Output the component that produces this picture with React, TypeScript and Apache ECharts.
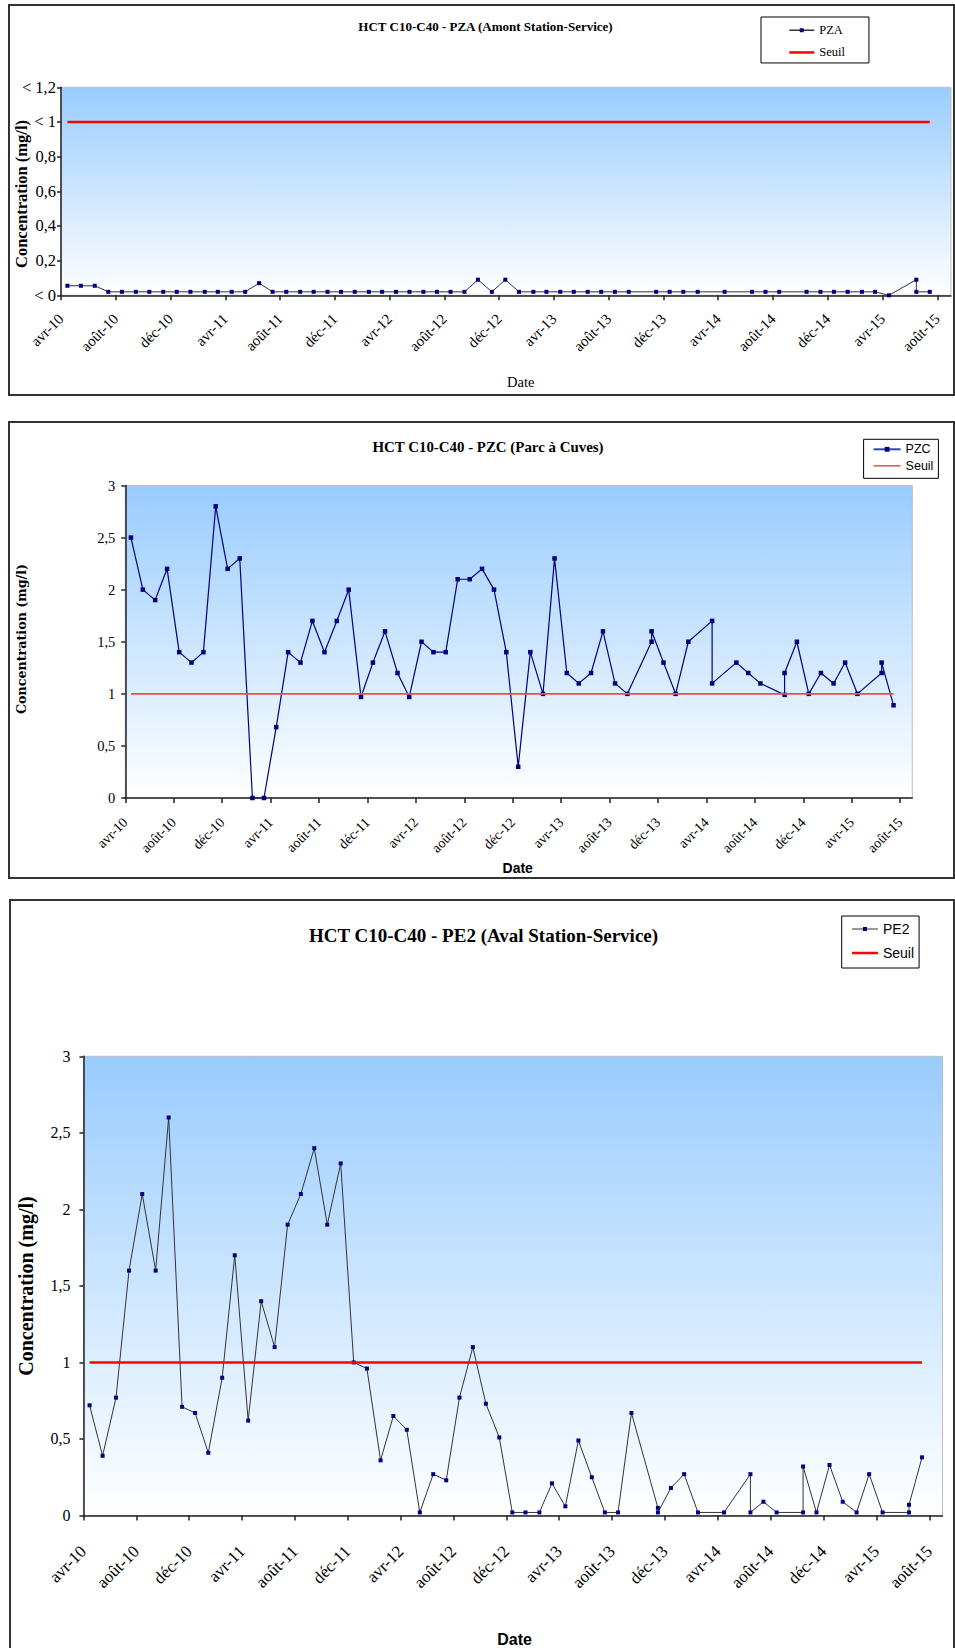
import { useEffect, useRef } from "react";
import * as echarts from "echarts";

// Sampling campaigns (one per month, some months skipped)
const campaignDates = [
  "2010-04-15", "2010-05-15", "2010-06-15", "2010-07-15", "2010-08-15", "2010-09-15", "2010-10-15", "2010-11-15", "2010-12-15",
  "2011-01-15", "2011-02-15", "2011-03-15", "2011-04-15", "2011-05-15", "2011-06-15", "2011-07-15", "2011-08-15", "2011-09-15",
  "2011-10-15", "2011-11-15", "2011-12-15",
  "2012-01-15", "2012-02-15", "2012-03-15", "2012-04-15", "2012-05-15", "2012-06-15", "2012-07-15", "2012-08-15", "2012-09-15",
  "2012-10-15", "2012-11-15", "2012-12-15",
  "2013-01-15", "2013-02-15", "2013-03-15", "2013-04-15", "2013-05-15", "2013-06-15", "2013-07-15", "2013-08-15", "2013-09-15",
  "2013-11-15", "2013-12-15", "2014-01-15", "2014-02-15", "2014-04-15", "2014-06-15", "2014-07-15", "2014-08-15",
  "2014-10-15", "2014-11-15", "2014-12-15", "2015-01-15", "2015-02-15", "2015-03-15", "2015-04-15", "2015-06-15", "2015-07-15",
];

// Values per campaign (a pair = two samples the same day)
const pzaValues: (number | number[])[] = [
  0.055, 0.055, 0.055, 0.02, 0.02, 0.02, 0.02, 0.02, 0.02,
  0.02, 0.02, 0.02, 0.02, 0.02, 0.07, 0.02, 0.02, 0.02,
  0.02, 0.02, 0.02,
  0.02, 0.02, 0.02, 0.02, 0.02, 0.02, 0.02, 0.02, 0.02,
  0.09, 0.02, 0.09,
  0.02, 0.02, 0.02, 0.02, 0.02, 0.02, 0.02, 0.02, 0.02,
  0.02, 0.02, 0.02, 0.02, 0.02, 0.02, 0.02, 0.02,
  0.02, 0.02, 0.02, 0.02, 0.02, 0.02, 0, [0.09, 0.02], 0.02,
];

const pzcValues: (number | number[])[] = [
  2.5, 2.0, 1.9, 2.2, 1.4, 1.3, 1.4, 2.8, 2.2,
  2.3, 0, 0, 0.68, 1.4, 1.3, 1.7, 1.4, 1.7,
  2.0, 0.97, 1.3,
  1.6, 1.2, 0.97, 1.5, 1.4, 1.4, 2.1, 2.1, 2.2,
  2.0, 1.4, 0.3,
  1.4, 1.0, 2.3, 1.2, 1.1, 1.2, 1.6, 1.1, 1.0,
  [1.5, 1.6], 1.3, 1.0, 1.5, [1.7, 1.1], 1.3, 1.2, 1.1,
  [0.99, 1.2], 1.5, 1.0, 1.2, 1.1, 1.3, 1.0, [1.2, 1.3], 0.89,
];

const pe2Values: (number | number[])[] = [
  0.72, 0.39, 0.77, 1.6, 2.1, 1.6, 2.6, 0.71, 0.67,
  0.41, 0.9, 1.7, 0.62, 1.4, 1.1, 1.9, 2.1, 2.4,
  1.9, 2.3, 1.0,
  0.96, 0.36, 0.65, 0.56, 0.02, 0.27, 0.23, 0.77, 1.1,
  0.73, 0.51, 0.02,
  0.02, 0.02, 0.21, 0.06, 0.49, 0.25, 0.02, 0.02, 0.67,
  [0.05, 0.02], 0.18, 0.27, 0.02, 0.02, [0.27, 0.02], 0.09, 0.02,
  [0.02, 0.32], 0.02, 0.33, 0.09, 0.02, 0.27, 0.02, [0.02, 0.07], 0.38,
];

const SEUIL = 1;

const xTickLabels = [
  "avr-10", "août-10", "déc-10", "avr-11", "août-11", "déc-11", "avr-12", "août-12", "déc-12",
  "avr-13", "août-13", "déc-13", "avr-14", "août-14", "déc-14", "avr-15", "août-15",
];
const yTickLabelsPZA = ["< 0", "0,2", "0,4", "0,6", "0,8", "< 1", "< 1,2"];
const yTickLabels3 = ["0", "0,5", "1", "1,5", "2", "2,5", "3"];

const X_MONTHS = 65; // avr-10 (1st) .. sept-15 (1st)
const X_STEP = 4;

const SERIF = "'Liberation Serif', 'Times New Roman', serif";
const SANS = "'Liberation Sans', Arial, sans-serif";
const WIDE_SERIF = "'DejaVu Serif', serif";

function monthOffset(d: string): number {
  const [y, m, day] = d.split("-").map(Number);
  const dim = new Date(y, m, 0).getDate();
  return (y - 2010) * 12 + (m - 4) + (day - 1) / dim;
}

function buildData(values: (number | number[])[]) {
  const out: number[][] = [];
  values.forEach((v, i) => {
    const x = monthOffset(campaignDates[i]);
    (Array.isArray(v) ? v : [v]).forEach((val) => out.push([x, val]));
  });
  return out;
}

function buildSeuil() {
  return campaignDates.map((d) => [monthOffset(d), SEUIL]);
}

const xTickValues = xTickLabels.map((_, i) => i * X_STEP);

function xAxisCfg(gridIndex: number, fontSize: number, margin: number) {
  return {
    type: "value",
    gridIndex,
    min: 0,
    max: X_MONTHS,
    interval: X_STEP,
    axisLine: { show: true, onZero: false, lineStyle: { color: "#222", width: 1.5 } },
    axisTick: { show: true, inside: false, length: 5, customValues: xTickValues, lineStyle: { color: "#222", width: 1.5 } },
    axisLabel: {
      show: true,
      rotate: 45,
      margin,
      customValues: xTickValues,
      color: "#000",
      fontFamily: SERIF,
      fontSize,
      formatter: (v: number) => xTickLabels[Math.round(v / X_STEP)] ?? "",
    },
    splitLine: { show: false },
  };
}

function yAxisCfg(gridIndex: number, max: number, interval: number, labels: string[], fontSize: number, margin: number) {
  return {
    type: "value",
    gridIndex,
    min: 0,
    max,
    interval,
    axisLine: { show: true, lineStyle: { color: "#222", width: 1.5 } },
    axisTick: { show: true, inside: false, length: 4, lineStyle: { color: "#222", width: 1.5 } },
    axisLabel: {
      show: true,
      margin,
      color: "#000",
      fontFamily: SERIF,
      fontSize,
      formatter: (v: number) => labels[Math.round(v / interval)] ?? "",
    },
    splitLine: { show: false },
  };
}

const plotBg = {
  type: "linear",
  x: 0,
  y: 0,
  x2: 0,
  y2: 1,
  colorStops: [
    { offset: 0, color: "#99CCFF" },
    { offset: 1, color: "#FFFFFF" },
  ],
};

function gridCfg(left: number, top: number, width: number, height: number) {
  return {
    left,
    top,
    width,
    height,
    show: true,
    backgroundColor: plotBg,
    borderColor: "#BFBFBF",
    borderWidth: 1,
    containLabel: false,
    outerBoundsMode: "none",
  };
}

function txt(x: number, y: number, text: string, font: any, rotation = 0) {
  return {
    type: "text",
    x,
    y,
    rotation,
    z: 10,
    style: {
      text,
      fill: "#000",
      align: "center",
      verticalAlign: "middle",
      ...font,
    },
  };
}

function frame(x: number, y: number, w: number, h: number) {
  return {
    type: "rect",
    z: 0,
    shape: { x, y, width: w, height: h },
    style: { fill: "none", stroke: "#333", lineWidth: 2 },
  };
}

const hiddenSymbol = { color: "rgba(0,0,0,0)", borderWidth: 0, opacity: 0 };

export default function App() {
  const ref = useRef<HTMLDivElement>(null);

  useEffect(() => {
    if (!ref.current) return;
    const chart = echarts.init(ref.current, null, { renderer: "svg" });

    const option: any = {
      animation: false,
      backgroundColor: "#fff",
      grid: [
        gridCfg(61, 87.3, 890, 208),
        gridCfg(125.3, 485.5, 787, 312.5),
        gridCfg(83.4, 1056.3, 859.1, 459.2),
      ],
      xAxis: [xAxisCfg(0, 15, 21), xAxisCfg(1, 14, 22), xAxisCfg(2, 17, 33)],
      yAxis: [
        yAxisCfg(0, 1.2, 0.2, yTickLabelsPZA, 16.5, 5),
        yAxisCfg(1, 3, 0.5, yTickLabels3, 14.5, 10),
        yAxisCfg(2, 3, 0.5, yTickLabels3, 16, 13),
      ],
      legend: [
        {
          orient: "vertical",
          left: 761,
          top: 17,
          padding: [6.75, 24, 4, 27],
          itemGap: 9.2,
          itemWidth: 25,
          itemHeight: 5,
          borderColor: "#000",
          borderWidth: 1,
          selectedMode: false,
          textStyle: { fontFamily: SERIF, fontSize: 12.5, color: "#000" },
          data: [
            { name: "PZA", itemStyle: { color: "#000080" }, lineStyle: { color: "#333", width: 1.5 } },
            { name: "Seuil", itemStyle: hiddenSymbol, lineStyle: { color: "#FF0000", width: 2.5 } },
          ],
        },
        {
          orient: "vertical",
          left: 863.6,
          top: 439.3,
          padding: [3.5, 5, 6, 9],
          itemGap: 3.5,
          itemWidth: 27,
          itemHeight: 6,
          borderColor: "#000",
          borderWidth: 1,
          selectedMode: false,
          textStyle: { fontFamily: SANS, fontSize: 12.5, color: "#000" },
          data: [
            { name: "PZC", itemStyle: { color: "#000080" }, lineStyle: { color: "#3344AA", width: 2 } },
            { name: "Seuil", itemStyle: hiddenSymbol, lineStyle: { color: "#E85050", width: 1.5 } },
          ],
        },
        {
          orient: "vertical",
          left: 841.7,
          top: 916,
          padding: [6, 5, 8, 9],
          itemGap: 10,
          itemWidth: 26,
          itemHeight: 5,
          borderColor: "#000",
          borderWidth: 1,
          selectedMode: false,
          textStyle: { fontFamily: SANS, fontSize: 14, color: "#000" },
          data: [
            { name: "PE2", itemStyle: { color: "#000080" }, lineStyle: { color: "#333", width: 1 } },
            { name: "Seuil", itemStyle: hiddenSymbol, lineStyle: { color: "#FF0000", width: 2.5 } },
          ],
        },
      ],
      graphic: [
        frame(9, 5, 945, 390),
        frame(9, 422, 945, 456),
        frame(10, 900, 944, 800),
        txt(485.5, 26.5, "HCT C10-C40 - PZA (Amont Station-Service)", { fontFamily: SERIF, fontWeight: "bold", fontSize: 13 }),
        txt(488, 446.7, "HCT C10-C40 - PZC (Parc à Cuves)", { fontFamily: SERIF, fontWeight: "bold", fontSize: 14.9 }),
        txt(483.5, 935, "HCT C10-C40 - PE2 (Aval Station-Service)", { fontFamily: SERIF, fontWeight: "bold", fontSize: 19 }),
        txt(21, 194, "Concentration (mg/l)", { fontFamily: SERIF, fontWeight: "bold", fontSize: 16.5 }, Math.PI / 2),
        txt(21, 639, "Concentration (mg/l)", { fontFamily: WIDE_SERIF, fontWeight: "bold", fontSize: 12.7 }, Math.PI / 2),
        txt(25.6, 1286, "Concentration (mg/l)", { fontFamily: SERIF, fontWeight: "bold", fontSize: 20 }, Math.PI / 2),
        txt(520.7, 381.7, "Date", { fontFamily: SERIF, fontSize: 14.5 }),
        txt(517.7, 868, "Date", { fontFamily: SANS, fontWeight: "bold", fontSize: 14 }),
        txt(514.6, 1639, "Date", { fontFamily: SANS, fontWeight: "bold", fontSize: 16 }),
      ],
      series: [
        {
          type: "line",
          name: "PZA",
          xAxisIndex: 0,
          yAxisIndex: 0,
          data: buildData(pzaValues),
          symbol: "rect",
          symbolSize: 4,
          itemStyle: { color: "#000080" },
          lineStyle: { color: "#333", width: 1 },
          z: 3,
        },
        {
          type: "line",
          name: "Seuil",
          xAxisIndex: 0,
          yAxisIndex: 0,
          data: buildSeuil(),
          symbol: "none",
          lineStyle: { color: "#FF0000", width: 2.5 },
          z: 4,
        },
        {
          type: "line",
          name: "PZC",
          xAxisIndex: 1,
          yAxisIndex: 1,
          data: buildData(pzcValues),
          symbol: "rect",
          symbolSize: 4.5,
          itemStyle: { color: "#000080" },
          lineStyle: { color: "#000080", width: 1.2 },
          z: 3,
        },
        {
          type: "line",
          name: "Seuil",
          xAxisIndex: 1,
          yAxisIndex: 1,
          data: buildSeuil(),
          symbol: "none",
          lineStyle: { color: "#E85050", width: 1.6 },
          z: 4,
        },
        {
          type: "line",
          name: "PE2",
          xAxisIndex: 2,
          yAxisIndex: 2,
          data: buildData(pe2Values),
          symbol: "rect",
          symbolSize: 4,
          itemStyle: { color: "#000080" },
          lineStyle: { color: "#333", width: 1 },
          z: 3,
        },
        {
          type: "line",
          name: "Seuil",
          xAxisIndex: 2,
          yAxisIndex: 2,
          data: buildSeuil(),
          symbol: "none",
          lineStyle: { color: "#FF0000", width: 2.5 },
          z: 4,
        },
      ],
    };

    chart.setOption(option);
    return () => chart.dispose();
  }, []);

  return (
    <div
      ref={ref}
      style={{ position: "absolute", left: 0, top: 0, width: 955, height: 1648, background: "#fff" }}
    />
  );
}
